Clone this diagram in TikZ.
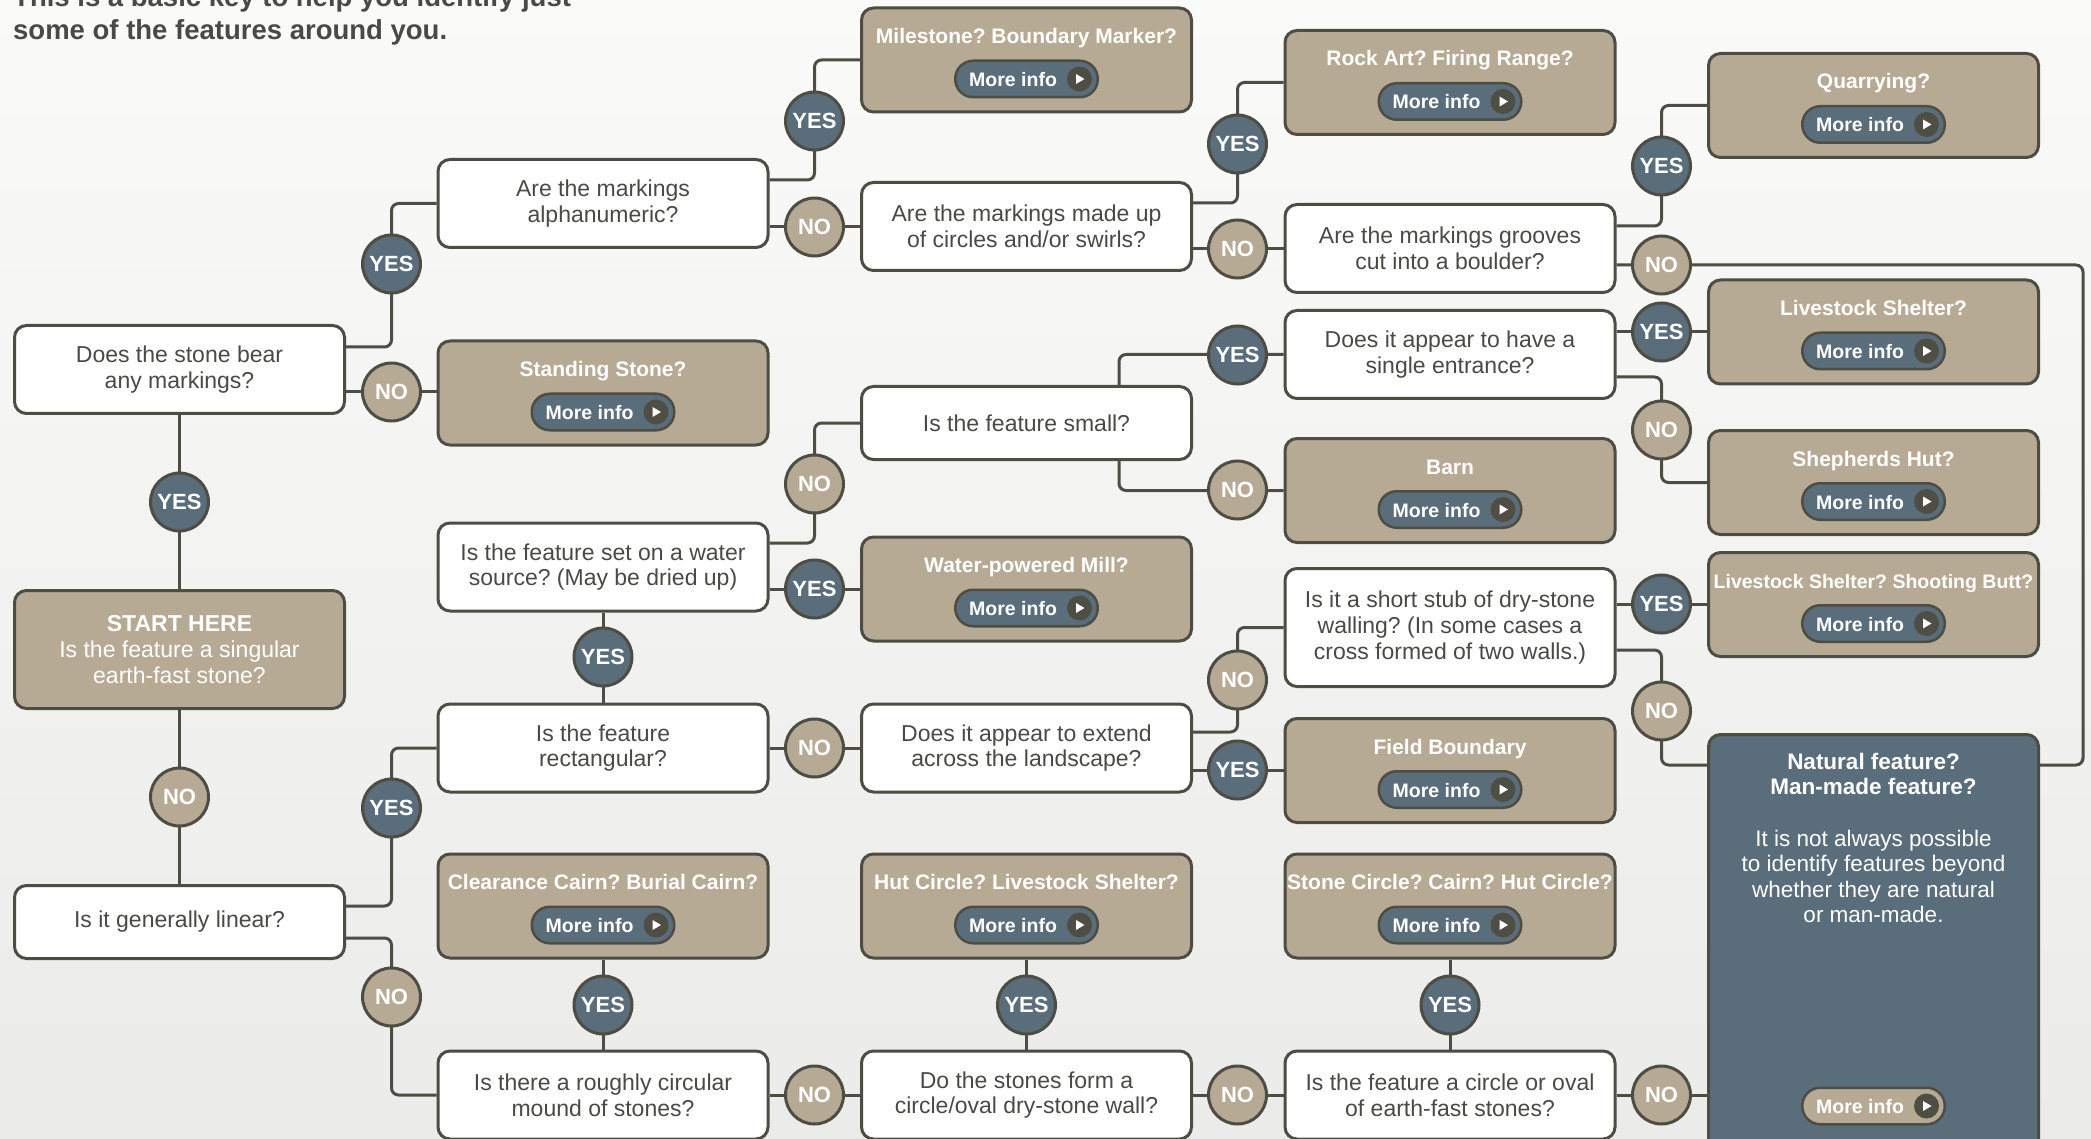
\documentclass[tikz,border=0pt]{standalone}
\usepackage{fontspec}
\setmainfont{Liberation Sans}
\usetikzlibrary{calc}
\frenchspacing
\definecolor{tanc}{HTML}{B7AA94}
\definecolor{slate}{HTML}{5A6D7A}
\definecolor{linec}{HTML}{4D4D44}
\definecolor{dotc}{HTML}{4F4E45}
\definecolor{txtc}{HTML}{4A4A44}
\definecolor{bgtop}{HTML}{FAFAF9}
\definecolor{bgmid}{HTML}{F2F2F0}
\definecolor{bgbot}{HTML}{EBEBE9}
\pgfdeclarelayer{bg}
\pgfsetlayers{bg,main}
\newcommand\fQ{\fontsize{23}{25.7}\selectfont}
\newcommand\fT{\fontsize{21}{24}\selectfont\bfseries}
\newcommand\fM{\fontsize{19.5}{22}\selectfont\bfseries}
\newcommand\fC{\fontsize{22}{24}\selectfont\bfseries}
\newcommand\fH{\fontsize{27.5}{32}\selectfont\bfseries}
\tikzset{
  box/.style={draw=linec, line width=3pt, rounded corners=12pt, minimum width=330pt, inner sep=0pt, align=center},
  qbox/.style={box, fill=white, text=txtc, font=\fQ, minimum height=88pt},
  qone/.style={qbox, minimum height=73pt},
  qthree/.style={qbox, minimum height=118pt},
  abox/.style={box, fill=tanc, minimum height=104pt},
  atitle/.style={text=white, font=\fT, inner sep=0pt, anchor=base},
  pillS/.style={draw=linec, line width=2.5pt, fill=slate, rounded corners=18pt, minimum width=142.5pt, minimum height=36.5pt, inner sep=0pt},
  pillT/.style={pillS, fill=tanc},
  mtext/.style={text=white, font=\fM, inner sep=0pt, anchor=base west},
  adot/.style={circle, fill=dotc, minimum size=25pt, inner sep=0pt},
  yesc/.style={circle, draw=linec, line width=3pt, fill=slate, minimum size=58pt, inner sep=0pt, text=white, font=\fC},
  noc/.style={yesc, fill=tanc},
  conn/.style={draw=linec, line width=3pt, rounded corners=7pt},
}
\newcommand\infobtn[3]{%
  \node[#3] (#1) at #2 {};
  \node[mtext] (#1txt) at ([xshift=15pt,yshift=-7.5pt]#1.west) {More info};
  \node[adot] (#1dot) at ([xshift=-19.5pt]#1.east) {};
  \fill[white] ([xshift=-3.5pt,yshift=5pt]#1dot.center) -- ([xshift=-3.5pt,yshift=-5pt]#1dot.center) -- ([xshift=5pt]#1dot.center) -- cycle;}
\newcommand\ansbox[4]{%
  \node[abox] (#1) at (#2,#3) {};
  \node[atitle] (#1t) at ([yshift=-37pt]#1.north) {#4};
  \infobtn{#1p}{([yshift=-72.5pt]#1.north)}{pillS}}
\begin{document}
\begin{tikzpicture}[x=1pt,y=-1pt]
\useasboundingbox (0,0) rectangle (2091,1139);
\begin{pgfonlayer}{bg}
\shade[top color=bgtop, middle color=bgmid, bottom color=bgbot] (0,0) rectangle (2091,1139);
\end{pgfonlayer}
% header
\node[anchor=base west, font=\fH, text=txtc, inner sep=0pt] (h1) at (13,7) {This is a basic key to help you identify just};
\node[anchor=base west, font=\fH, text=txtc, inner sep=0pt] (h2) at (13,39.5) {some of the features around you.};
% column 1
\node[qbox] (does) at (179.5,369.5) {Does the stone bear\\any markings?};
\node[box, fill=tanc, minimum height=118pt, text=white, font=\fQ] (start) at (179.5,649.5) {{\bfseries START HERE}\\Is the feature a singular\\earth-fast stone?};
\node[qone] (linear) at (179.5,922) {Is it generally linear?};
% column 2
\node[qbox] (alpha) at (603,203.5) {Are the markings\\alphanumeric?};
\ansbox{stand}{603}{393}{Standing Stone?}
\node[qbox] (water) at (603,567) {Is the feature set on a water\\source? (May be dried up)};
\node[qbox] (rect) at (603,748) {Is the feature\\rectangular?};
\ansbox{clear}{603}{906}{Clearance Cairn? Burial Cairn?}
\node[qbox] (mound) at (603,1095) {Is there a roughly circular\\mound of stones?};
% column 3
\ansbox{mile}{1026.5}{60}{Milestone? Boundary Marker?}
\node[qbox] (swirl) at (1026.5,226.5) {Are the markings made up\\of circles and/or swirls?};
\node[qone] (small) at (1026.5,423) {Is the feature small?};
\ansbox{mill}{1026.5}{589}{Water-powered Mill?}
\node[qbox] (extend) at (1026.5,748) {Does it appear to extend\\across the landscape?};
\ansbox{hut}{1026.5}{906}{Hut Circle? Livestock Shelter?}
\node[qbox] (form) at (1026.5,1095) {Do the stones form a\\circle/oval dry-stone wall?};
% column 4
\ansbox{rock}{1450}{82.5}{Rock Art? Firing Range?}
\node[qbox] (groove) at (1450,248.5) {Are the markings grooves\\cut into a boulder?};
\node[qbox] (entr) at (1450,354.5) {Does it appear to have a\\single entrance?};
\ansbox{barn}{1450}{490.5}{Barn}
\node[qthree] (stub) at (1450,627.5) {Is it a short stub of dry-stone\\walling? (In some cases a\\cross formed of two walls.)};
\ansbox{field}{1450}{770.5}{Field Boundary}
\ansbox{scirc}{1450}{906}{Stone Circle? Cairn? Hut Circle?}
\node[qbox] (oval) at (1450,1095) {Is the feature a circle or oval\\of earth-fast stones?};
% column 5
\ansbox{quarry}{1873.5}{105.5}{Quarrying?}
\ansbox{lshel}{1873.5}{332}{Livestock Shelter?}
\ansbox{shep}{1873.5}{482.5}{Shepherds Hut?}
\ansbox{shoot}{1873.5}{604.5}{{\fontsize{19.5}{22}\selectfont Livestock Shelter? Shooting Butt?}}
\node[box, fill=slate, minimum height=434pt] (nat) at (1873.5,951.5) {};
\node[text=white, font=\fontsize{22.5}{25.5}\selectfont, align=center, inner sep=0pt, anchor=north] (natt) at ([yshift=-19.5pt]nat.north) {{\bfseries Natural feature?}\\{\bfseries Man-made feature?}\\[26pt]It is not always possible\\to identify features beyond\\whether they are natural\\or man-made.};
\infobtn{natp}{(1873.5,1106)}{pillT}
\coordinate (rc) at (2083,265);
% answer circles
\node[yesc] (c1y) at (179.5,502) {YES};
\node[noc] (c1n) at (179.5,797) {NO};
\node[yesc] (g1a) at (391.5,264) {YES};
\node[noc] (g1b) at (391.5,392) {NO};
\node[yesc] (g1c) at (391.5,808) {YES};
\node[noc] (g1d) at (391.5,997) {NO};
\node[yesc] (g2a) at (814.5,121) {YES};
\node[noc] (g2b) at (814.5,227) {NO};
\node[noc] (g2c) at (814.5,484) {NO};
\node[yesc] (g2d) at (814.5,589) {YES};
\node[noc] (g2e) at (814.5,748) {NO};
\node[noc] (g2f) at (814.5,1095) {NO};
\node[yesc] (v2a) at (603,657) {YES};
\node[yesc] (v2b) at (603,1005) {YES};
\node[yesc] (g3a) at (1237.5,144) {YES};
\node[noc] (g3b) at (1237.5,249) {NO};
\node[yesc] (g3c) at (1237.5,355) {YES};
\node[noc] (g3d) at (1237.5,490) {NO};
\node[noc] (g3e) at (1237.5,680) {NO};
\node[yesc] (g3f) at (1237.5,770) {YES};
\node[noc] (g3g) at (1237.5,1095) {NO};
\node[yesc] (v3) at (1026.5,1005) {YES};
\node[yesc] (v4) at (1450,1005) {YES};
\node[yesc] (g4a) at (1661.5,166) {YES};
\node[noc] (g4b) at (1661.5,265) {NO};
\node[yesc] (g4c) at (1661.5,332) {YES};
\node[noc] (g4d) at (1661.5,430) {NO};
\node[yesc] (g4e) at (1661.5,604) {YES};
\node[noc] (g4f) at (1661.5,711) {NO};
\node[noc] (g4g) at (1661.5,1095) {NO};
% connectors
\begin{pgfonlayer}{bg}
\draw[conn] ([yshift=22.5pt]does.east) -| (g1a.center) |- (alpha.west);
\draw[conn] (does.east |- g1b) -- (stand.west |- g1b);
\draw[conn] (does.south) -- (start.north);
\draw[conn] (start.south) -- (linear.north);
\draw[conn] ([yshift=16pt]linear.east) -| (g1c.center) |- (rect.west);
\draw[conn] ([yshift=-16pt]linear.east) -| (g1d.center) |- (mound.west);
\draw[conn] ([yshift=23.5pt]alpha.east) -| (g2a.center) |- (mile.west);
\draw[conn] (alpha.east |- g2b) -- (swirl.west |- g2b);
\draw[conn] ([yshift=23.5pt]swirl.east) -| (g3a.center) |- (rock.west);
\draw[conn] (swirl.east |- g3b) -- (groove.west |- g3b);
\draw[conn] ([yshift=22.5pt]groove.east) -| (g4a.center) |- (quarry.west);
\draw[conn] (groove.east |- g4b) -- (rc) |- ([yshift=186.5pt]nat.east);
\draw[conn] ([yshift=24pt]water.east) -| (g2c.center) |- (small.west);
\draw[conn] (water.east |- g2d) -- (mill.west |- g2d);
\draw[conn] (water.south) -- (rect.north);
\draw[conn] ([xshift=92.5pt]small.north) |- (entr.west);
\draw[conn] ([xshift=92.5pt]small.south) |- (barn.west);
\draw[conn] (rect.east) -- (extend.west);
\draw[conn] ([yshift=16pt]extend.east) -| (g3e.center) |- (stub.west);
\draw[conn] (extend.east |- g3f) -- (field.west |- g3f);
\draw[conn] (entr.east |- g4c) -- (lshel.west |- g4c);
\draw[conn] ([yshift=-22.5pt]entr.east) -| (g4d.center) |- (shep.west);
\draw[conn] (stub.east |- g4e) -- (shoot.west |- g4e);
\draw[conn] ([yshift=-22.5pt]stub.east) -| (g4f.center) |- ([yshift=186.5pt]nat.west);
\draw[conn] (clear.south) -- (mound.north);
\draw[conn] (mound.east) -- (form.west);
\draw[conn] (hut.south) -- (form.north);
\draw[conn] (form.east) -- (oval.west);
\draw[conn] (scirc.south) -- (oval.north);
\draw[conn] (oval.east) -- (nat.west |- oval.east);
\end{pgfonlayer}
\end{tikzpicture}
\end{document}
